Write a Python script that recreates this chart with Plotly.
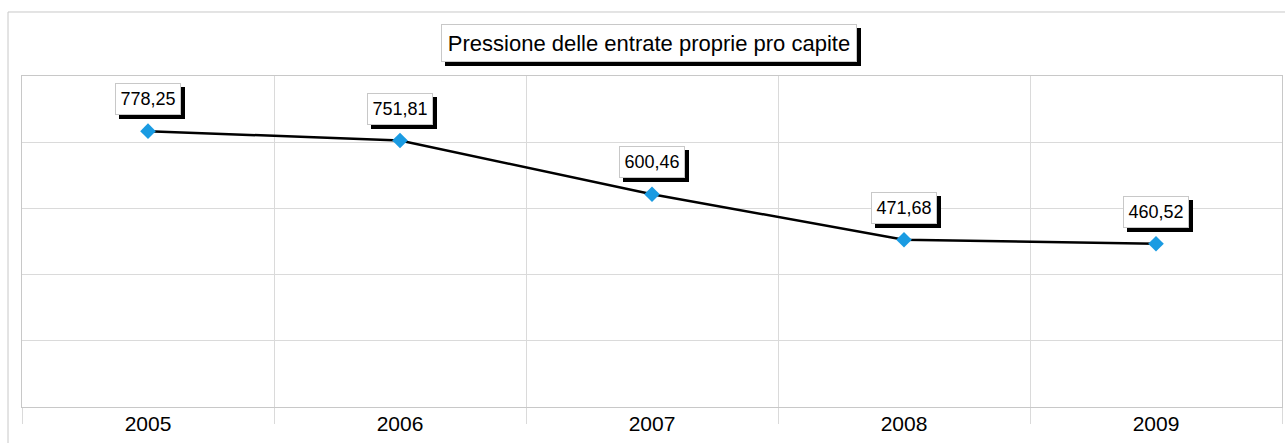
import plotly.graph_objects as go

years = ["2005", "2006", "2007", "2008", "2009"]
values = [778.25, 751.81, 600.46, 471.68, 460.52]
value_labels = ["778,25", "751,81", "600,46", "471,68", "460,52"]
title_text = "Pressione delle entrate proprie pro capite"

FONT = "Arial, Liberation Sans, sans-serif"
y_max = max(values) * 1.2
y_step = y_max / 5

fig = go.Figure()
fig.add_trace(go.Scatter(
    x=list(range(len(years))), y=values, mode="lines+markers",
    line=dict(color="black", width=2.5),
    marker=dict(symbol="diamond", size=12, color="#1a9be2"),
    hoverinfo="skip", showlegend=False,
))

annotations = []
for i, (y, t) in enumerate(zip(values, value_labels)):
    # shadow box (no text)
    annotations.append(dict(
        x=i, y=y, xref="x", yref="y", text="\u00a0", showarrow=False,
        yanchor="bottom", xanchor="center", yshift=16 - 4, xshift=4,
        width=56, height=22,
        font=dict(family=FONT, size=18, color="black"),
        bgcolor="black", bordercolor="black", borderwidth=1, borderpad=4,
    ))
    annotations.append(dict(
        x=i, y=y, xref="x", yref="y", text=t, showarrow=False,
        yanchor="bottom", xanchor="center", yshift=16,
        width=56, height=22,
        font=dict(family=FONT, size=18, color="black"),
        bgcolor="white", bordercolor="#c8c8c8", borderwidth=1, borderpad=4,
    ))

tx, ty = 0.498, 1.101
annotations.append(dict(
    x=tx, y=ty, xref="paper", yref="paper", text="\u00a0", showarrow=False,
    xanchor="center", yanchor="middle", xshift=4, yshift=-4,
    width=404, height=26,
    font=dict(family=FONT, size=22, color="black"),
    bgcolor="black", bordercolor="black", borderwidth=1, borderpad=5,
))
annotations.append(dict(
    x=tx, y=ty, xref="paper", yref="paper", text=title_text, showarrow=False,
    xanchor="center", yanchor="middle",
    width=404, height=26,
    font=dict(family=FONT, size=22, color="black"),
    bgcolor="white", bordercolor="#c8c8c8", borderwidth=1, borderpad=5,
))

fig.update_layout(
    width=1285, height=443,
    margin=dict(l=22, r=3, t=76, b=36, pad=0),
    paper_bgcolor="white", plot_bgcolor="white",
    annotations=annotations,
    shapes=[dict(type="rect", xref="paper", yref="paper",
                 x0=-0.0111, x1=1.05, y0=-0.3, y1=1.1934,
                 line=dict(color="#c8c8c8", width=1), layer="below")],
    xaxis=dict(
        type="linear", range=[-0.5, 4.5],
        tickmode="array", tickvals=list(range(len(years))), ticktext=years,
        showgrid=False, ticks="", showline=True, linecolor="#c8c8c8", linewidth=1, mirror=True,
        tickfont=dict(family=FONT, size=21, color="black"),
        ticklabelstandoff=-2, zeroline=False,
        fixedrange=True,
    ),
    xaxis2=dict(
        overlaying="x", matches="x", range=[-0.5, 4.5],
        tickmode="array", tickvals=[i - 0.5 for i in range(len(years) + 1)],
        showticklabels=False, showgrid=True, gridcolor="#dadada", gridwidth=1,
        ticks="outside", ticklen=16, tickcolor="#dadada", side="bottom",
        zeroline=False, fixedrange=True,
    ),
    yaxis=dict(
        range=[0, y_max], tick0=0, dtick=y_step,
        showgrid=True, gridcolor="#dadada", gridwidth=1,
        zeroline=False, showticklabels=False, ticks="",
        showline=True, linecolor="#c8c8c8", linewidth=1, mirror=True,
        fixedrange=True,
    ),
)
# dummy trace to activate the boundary grid axis
fig.add_trace(go.Scatter(x=[None], y=[None], xaxis="x2", yaxis="y",
                         showlegend=False, hoverinfo="skip"))

fig.write_html("out.html", config={"displayModeBar": False},
               post_script="document.body.style.margin='0';")
